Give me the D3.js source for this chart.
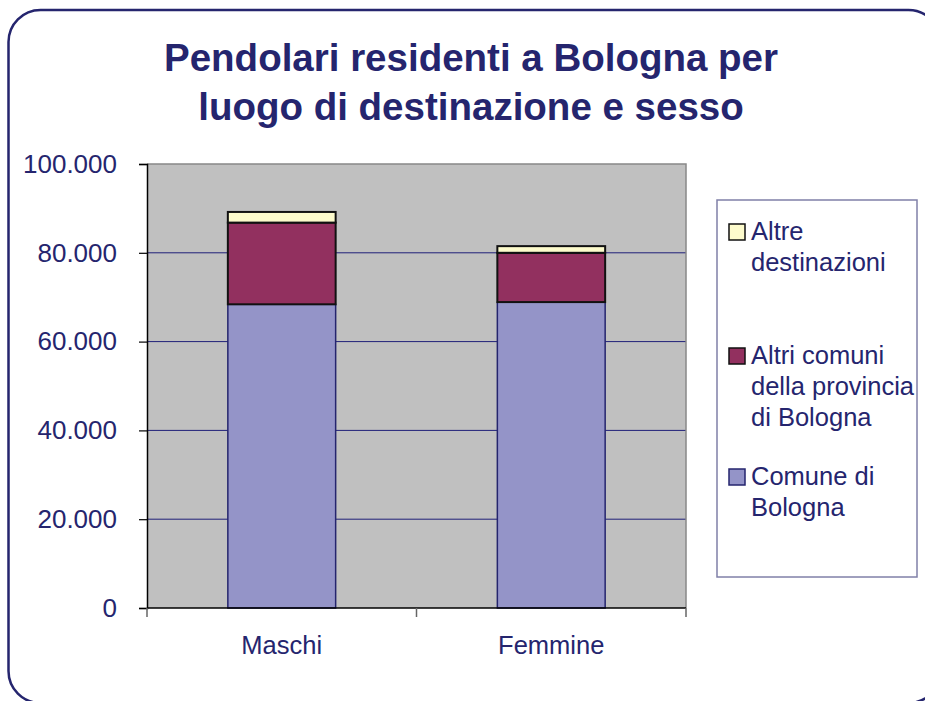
<!DOCTYPE html>
<html>
<head>
<meta charset="utf-8">
<script src="https://cdn.jsdelivr.net/npm/d3@7/dist/d3.min.js"></script>
<style>
  body { margin: 0; background: #fff; }
  svg text { font-family: Arial, "Liberation Sans", sans-serif; fill: #25256e; }
</style>
</head>
<body>
<div id="chart"></div>
<script>
// data
var categories = ['Maschi', 'Femmine'];
var seriesNames = ['Comune di Bologna', 'Altri comuni della provincia di Bologna', 'Altre destinazioni'];
var comuneBologna = [68400, 68900];
var altriComuni = [18400, 11100];
var altreDestinazioni = [2400, 1500];
var yTicks = [0, 20000, 40000, 60000, 80000, 100000];
var titleLines = ['Pendolari residenti a Bologna per', 'luogo di destinazione e sesso'];

// legend lines, top to bottom (legend is reversed)
var legendItems = [
  { key: 2, lines: ['Altre', 'destinazioni'] },
  { key: 1, lines: ['Altri comuni', 'della provincia', 'di Bologna'] },
  { key: 0, lines: ['Comune di', 'Bologna'] }
];

const W = 925, H = 701;
const PLOT = { left: 147, right: 686, top: 164, bottom: 608 };
const FILLS = ['#9494c8', '#92305f', '#fdfbcc'];
const STROKES = ['#25256e', '#111', '#111'];

var svg = d3.select('#chart').append('svg')
            .attr('width', W)
            .attr('height', H);

// outer rounded frame
svg.append('rect')
   .attr('x', 8.5).attr('y', 10)
   .attr('width', 932).attr('height', 693)
   .attr('rx', 32).attr('ry', 32)
   .attr('fill', '#fff')
   .attr('stroke', '#25256e')
   .attr('stroke-width', 2.5);

// title
svg.selectAll('text.title').data(titleLines)
   .enter().append('text')
   .classed('title', true)
   .attr('x', 471)
   .attr('y', (d, i) => 71 + i * 49)
   .attr('text-anchor', 'middle')
   .style('font-size', '38.5px')
   .style('font-weight', 'bold')
   .text(d => d);

// scales
var x = d3.scaleBand().domain(categories).range([PLOT.left, PLOT.right]).paddingInner(0.6).paddingOuter(0.3);
var xOuter = d3.scaleBand().domain(categories).range([PLOT.left, PLOT.right]);
var y = d3.scaleLinear().domain([0, 100000]).range([PLOT.bottom, PLOT.top]);

// plot background
svg.append('rect')
   .attr('x', PLOT.left).attr('y', PLOT.top)
   .attr('width', PLOT.right - PLOT.left)
   .attr('height', PLOT.bottom - PLOT.top)
   .attr('fill', '#c0c0c0');

// gridlines
svg.selectAll('line.grid').data(yTicks.filter(d => d > 0 && d < 100000))
   .enter().append('line')
   .attr('x1', PLOT.left).attr('x2', PLOT.right)
   .attr('y1', d => y(d)).attr('y2', d => y(d))
   .attr('stroke', '#1f1f78')
   .attr('stroke-width', 1);

// plot border top / right
svg.append('path')
   .attr('d', 'M' + PLOT.left + ',' + PLOT.top + 'H' + PLOT.right + 'V' + PLOT.bottom)
   .attr('fill', 'none')
   .attr('stroke', '#888')
   .attr('stroke-width', 1.5);

// stacked bars
var table = categories.map((c, i) => ({
  cat: c, 0: comuneBologna[i], 1: altriComuni[i], 2: altreDestinazioni[i]
}));
var stack = d3.stack().keys([0, 1, 2])(table);

var layers = svg.selectAll('g.layer').data(stack)
                .enter().append('g')
                .classed('layer', true)
                .attr('fill', (d, i) => FILLS[i])
                .attr('stroke', (d, i) => STROKES[i])
                .attr('stroke-width', (d, i) => i == 0 ? 1.5 : 2);

layers.selectAll('rect').data(d => d)
      .enter().append('rect')
      .attr('x', d => x(d.data.cat))
      .attr('width', x.bandwidth())
      .attr('y', d => y(d[1]))
      .attr('height', d => y(d[0]) - y(d[1]));

// y axis
var yAxis = svg.append('g')
               .attr('transform', 'translate(' + PLOT.left + ',0)')
               .call(d3.axisLeft(y).tickValues(yTicks).tickSize(8).tickPadding(22)
                       .tickFormat(d => d3.format(',')(d).replace(/,/g, '.')));
yAxis.select('.domain').attr('stroke', '#000').attr('stroke-width', 1.5);
yAxis.selectAll('.tick line').attr('stroke', '#000').attr('stroke-width', 1.2);
yAxis.selectAll('.tick text').style('font-size', '26px').attr('fill', '#25256e');

// x axis
var xAxis = svg.append('g')
               .attr('transform', 'translate(0,' + PLOT.bottom + ')');
xAxis.append('line')
     .attr('x1', PLOT.left).attr('x2', PLOT.right)
     .attr('stroke', '#000').attr('stroke-width', 1.5);
var xTickPos = categories.map(c => xOuter(c)).concat([PLOT.right]);
xAxis.selectAll('line.xtick').data(xTickPos)
     .enter().append('line')
     .attr('x1', d => d).attr('x2', d => d)
     .attr('y1', 0).attr('y2', 9)
     .attr('stroke', '#666').attr('stroke-width', 1.5);
xAxis.selectAll('text').data(categories)
     .enter().append('text')
     .attr('x', d => xOuter(d) + xOuter.bandwidth() / 2)
     .attr('y', 46)
     .attr('text-anchor', 'middle')
     .style('font-size', '25.5px')
     .text(d => d);

// legend
svg.append('rect')
   .attr('x', 717).attr('y', 200)
   .attr('width', 200).attr('height', 377)
   .attr('fill', '#fff')
   .attr('stroke', '#8080a8')
   .attr('stroke-width', 1.5);

var legendTop = [240, 364, 485];
var legend = svg.selectAll('g.legend').data(legendItems)
                .enter().append('g')
                .classed('legend', true)
                .attr('transform', (d, i) => 'translate(0,' + legendTop[i] + ')');

legend.append('rect')
      .attr('x', 729).attr('y', -16)
      .attr('width', 16).attr('height', 16)
      .attr('fill', d => FILLS[d.key])
      .attr('stroke', d => d.key == 0 ? '#25256e' : '#111')
      .attr('stroke-width', 1.5);

legend.selectAll('text').data(d => d.lines)
      .enter().append('text')
      .attr('x', 751)
      .attr('y', (d, i) => i * 31)
      .style('font-size', '25.5px')
      .text(d => d);
</script>
</body>
</html>
